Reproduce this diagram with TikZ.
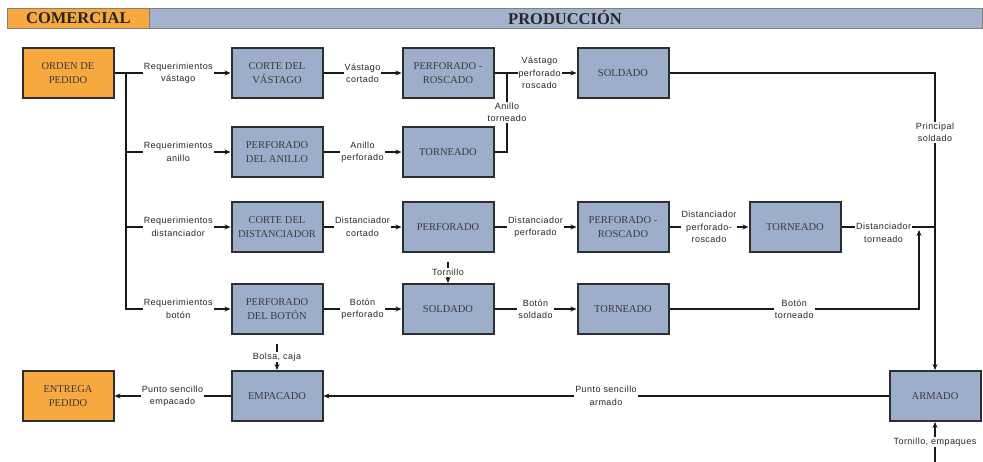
\documentclass[tikz,border=0pt]{standalone}
\usepackage{fontspec}
\setmainfont{Liberation Serif}
\newfontfamily\lblfont[LetterSpace=5]{Liberation Sans}
\usetikzlibrary{arrows.meta, positioning}
\definecolor{procblue}{HTML}{9DAECB}
\definecolor{ordorange}{HTML}{F7A93F}
\definecolor{hdrblue}{HTML}{A3B3CE}
\definecolor{boxtext}{HTML}{3A3A3A}

\begin{document}
\begin{tikzpicture}[
    x=1pt, y=-1pt,
    proc/.style={rectangle, draw=black!82, line width=2pt, fill=procblue, minimum width=91pt, minimum height=50pt, align=center, font=\fontsize{10.5}{13.5}\selectfont, text=boxtext, inner sep=2pt},
    ord/.style={proc, fill=ordorange},
    flow/.style={-{Stealth[length=6pt, width=5pt]}, line width=1.5pt, black!90},
    link/.style={line width=1.5pt, black!90},
    lbl/.style={fill=white, inner sep=1pt, align=center, font=\lblfont\fontsize{9}{12.5}\selectfont, text=black!85},
    hdr/.style={draw=black!50, line width=0.8pt, minimum height=20pt, inner sep=0pt, font=\fontsize{16.5}{16.5}\bfseries\selectfont, text=black!85}
]
\useasboundingbox (0,0) rectangle (983,462);

% header bars
\node[hdr, fill=hdrblue, minimum width=833pt, anchor=west] (prodbar) at (149,18) {};
\node[hdr, fill=ordorange, minimum width=142pt, anchor=west] (combar) at (7,18) {COMERCIAL};
\node[font=\fontsize{16.5}{16.5}\bfseries\selectfont, text=black!85] (prodtxt) at (565,18) {PRODUCCIÓN};

% process boxes
\node[ord] (orden) at (68,73) {ORDEN DE\\PEDIDO};
\node[proc] (cortev) at (277,73) {CORTE DEL\\VÁSTAGO};
\node[proc] (perfrv) at (448,73) {PERFORADO -\\ROSCADO};
\node[proc] (soldv) at (623,73) {SOLDADO};
\node[proc] (perfan) at (277,152) {PERFORADO\\DEL ANILLO};
\node[proc] (tornan) at (448,152) {TORNEADO};
\node[proc] (corted) at (277,227) {CORTE DEL\\DISTANCIADOR};
\node[proc] (perfd) at (448,227) {PERFORADO};
\node[proc] (perfrd) at (623,227) {PERFORADO -\\ROSCADO};
\node[proc] (tornd) at (795,227) {TORNEADO};
\node[proc] (perfbt) at (277,309) {PERFORADO\\DEL BOTÓN};
\node[proc] (soldbt) at (448,309) {SOLDADO};
\node[proc] (tornbt) at (623,309) {TORNEADO};
\node[proc] (empac) at (277,396) {EMPACADO};
\node[ord] (entrega) at (68,396) {ENTREGA\\PEDIDO};
\node[proc] (armado) at (935,396) {ARMADO};

\coordinate (trunk) at (126,73);
\coordinate (anj) at (507,73);
\coordinate (btj) at (919,230);
\coordinate (tornin) at (448,262);
\coordinate (bolsain) at (277,344);
\coordinate (armin) at (935,462);

% flows
\draw[flow] (orden) -- node[lbl, pos=0.55] {Requerimientos\\vástago} (cortev);
\draw[flow] (trunk) |- node[lbl, pos=0.75] {Requerimientos\\botón} (perfbt);
\draw[flow] (trunk |- perfan) -- node[lbl] {Requerimientos\\anillo} (perfan);
\draw[flow] (trunk |- corted) -- node[lbl] {Requerimientos\\distanciador} (corted);
\draw[flow] (cortev) -- node[lbl] {Vástago\\cortado} (perfrv);
\draw[flow] (perfrv) -- node[lbl, pos=0.55] {Vástago\\perforado\\roscado} (soldv);
\draw[link] (tornan) -| node[lbl, pos=0.75] {Anillo\\torneado} (anj);
\draw[flow] (soldv) -| node[lbl, pos=0.6] {Principal\\soldado} (armado);
\draw[flow] (perfan) -- node[lbl] {Anillo\\perforado} (tornan);
\draw[flow] (corted) -- node[lbl] {Distanciador\\cortado} (perfd);
\draw[flow] (perfd) -- node[lbl] {Distanciador\\perforado} (perfrd);
\draw[flow] (perfrd) -- node[lbl] {Distanciador\\perforado-\\roscado} (tornd);
\draw[link] (tornd) -- node[lbl, pos=0.45, yshift=-6pt] {Distanciador\\torneado} (tornd -| armado);
\draw[flow] (tornbt) -| node[lbl, pos=0.25] {Botón\\torneado} (btj);
\draw[flow] (perfbt) -- node[lbl] {Botón\\perforado} (soldbt);
\draw[flow] (soldbt) -- node[lbl] {Botón\\soldado} (tornbt);
\draw[flow] (tornin) -- node[lbl] {Tornillo} (soldbt);
\draw[flow] (bolsain) -- node[lbl] {Bolsa, caja} (empac);
\draw[flow] (armado) -- node[lbl] {Punto sencillo\\armado} (empac);
\draw[flow] (empac) -- node[lbl] {Punto sencillo\\empacado} (entrega);
\draw[flow] (armin) -- node[lbl] {Tornillo, empaques} (armado);
\end{tikzpicture}
\end{document}
